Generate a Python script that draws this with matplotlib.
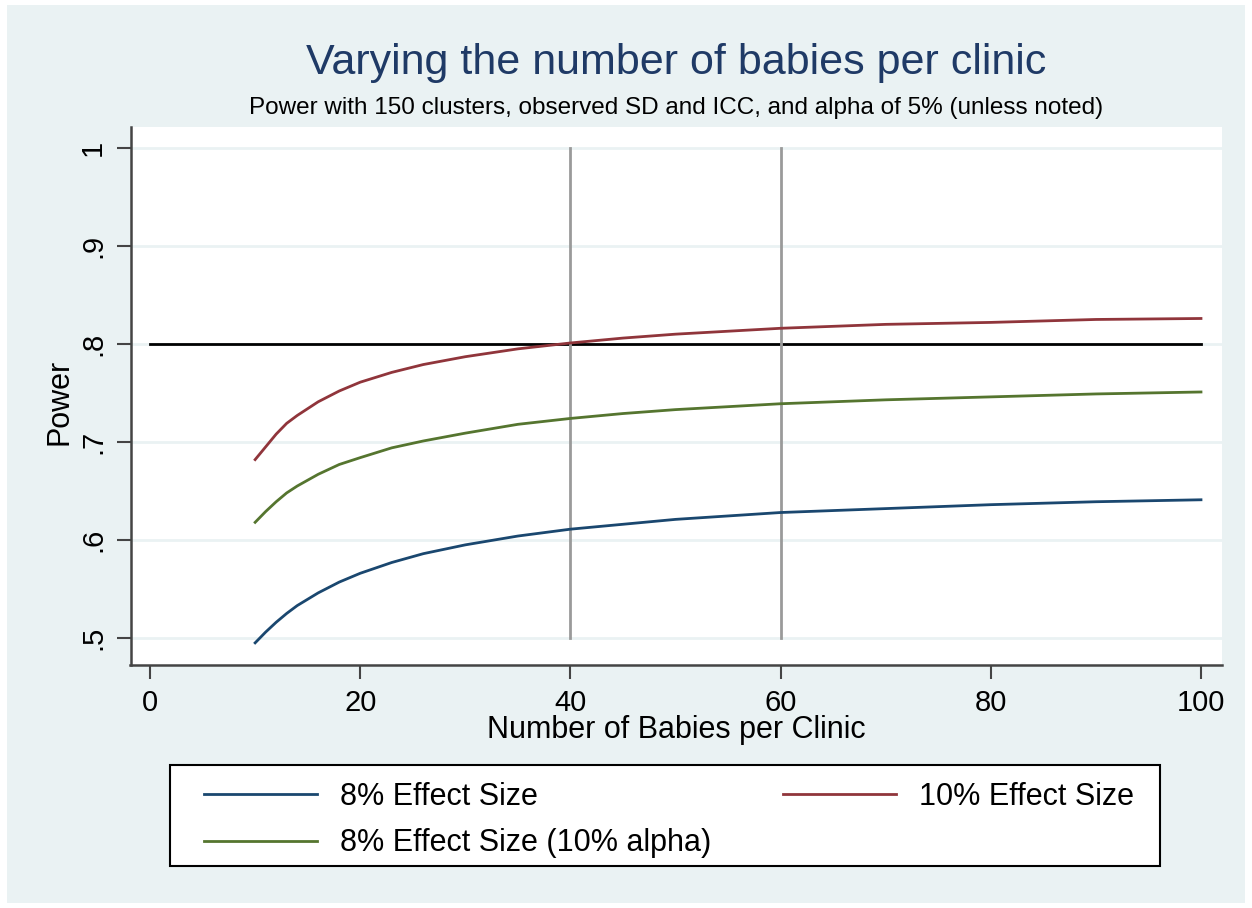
import matplotlib.pyplot as plt
from matplotlib.patches import Rectangle

plt.rcParams['font.family'] = ['Liberation Sans', 'DejaVu Sans']

# babies per clinic
babies = [10, 11, 12, 13, 14, 16, 18, 20, 23, 26, 30, 35, 40, 45, 50, 60, 70, 80, 90, 100]
# power
power_8 = [0.495, 0.506, 0.516, 0.525, 0.533, 0.546, 0.557, 0.566, 0.577, 0.586,
           0.595, 0.604, 0.611, 0.616, 0.621, 0.628, 0.632, 0.636, 0.639, 0.641]
power_10 = [0.682, 0.695, 0.708, 0.719, 0.727, 0.741, 0.752, 0.761, 0.771, 0.779,
            0.787, 0.795, 0.801, 0.806, 0.810, 0.816, 0.820, 0.822, 0.825, 0.826]
power_8_alpha10 = [0.618, 0.629, 0.639, 0.648, 0.655, 0.667, 0.677, 0.684, 0.694, 0.701,
                   0.709, 0.718, 0.724, 0.729, 0.733, 0.739, 0.743, 0.746, 0.749, 0.751]

target_power = 0.8
marked_n = [40, 60]
xticks = [0, 20, 40, 60, 80, 100]
yticks = [0.5, 0.6, 0.7, 0.8, 0.9, 1.0]
ytick_labels = ['.5', '.6', '.7', '.8', '.9', '1']

navy = '#1a476f'
maroon = '#90353b'
green = '#55752f'
bg = '#eaf2f3'

fig = plt.figure(figsize=(12.52, 9.08), dpi=100, facecolor='white')
fig.patches.append(Rectangle((7 / 1252, 5 / 908), 1238 / 1252, 898 / 908,
                             transform=fig.transFigure, facecolor=bg, edgecolor='none', zorder=-10))
# legend box
fig.patches.append(Rectangle((170 / 1252, 1 - 866 / 908), 990 / 1252, 101 / 908,
                             transform=fig.transFigure, facecolor='white', edgecolor='black',
                             lw=1.5, zorder=-5))

ax = fig.add_axes([130.5 / 1252, 1 - 665 / 908, (1222 - 130.5) / 1252, (665 - 127) / 908])
ax.set_facecolor('white')

for y in yticks:
    ax.axhline(y, color=bg, lw=2, zorder=0)

ax.plot([0, 100], [target_power, target_power], color='black', lw=2, zorder=2)
for n in marked_n:
    ax.plot([n, n], [0.5, 1.0], color='#9a9a9a', lw=2, zorder=2)

l1, = ax.plot(babies, power_8, color=navy, lw=2, zorder=3)
l2, = ax.plot(babies, power_10, color=maroon, lw=2, zorder=3)
l3, = ax.plot(babies, power_8_alpha10, color=green, lw=2, zorder=3)

ax.set_xlim(-1.86, 102)
ax.set_ylim(0.4724, 1.0214)
ax.set_xticks(xticks)
ax.set_yticks(yticks)
ax.set_yticklabels(ytick_labels, rotation=90, va='center')
ax.tick_params(axis='both', length=10, width=1.5, color='#444444', labelsize=21, pad=7)

for s in ['top', 'right']:
    ax.spines[s].set_visible(False)
for s in ['left', 'bottom']:
    ax.spines[s].set_color('#444444')
    ax.spines[s].set_linewidth(1.8)

ax.set_xlabel('Number of Babies per Clinic', fontsize=22, va='center')
ax.xaxis.set_label_coords((676 - 130.5) / 1091.5, (665 - 730) / 538)
ax.set_ylabel('Power', fontsize=22, va='center')
ax.yaxis.set_label_coords((59 - 130.5) / 1091.5, (665 - 402) / 538)

fig.text(676 / 1252, 1 - 63 / 908, 'Varying the number of babies per clinic',
         ha='center', va='center', fontsize=31, color='#1f3a66')
fig.text(676 / 1252, 1 - 108 / 908, 'Power with 150 clusters, observed SD and ICC, and alpha of 5% (unless noted)',
         ha='center', va='center', fontsize=17.5, color='black')

leg = fig.legend([l1, l3, l2], ['8% Effect Size', '8% Effect Size (10% alpha)', '10% Effect Size'],
                 ncol=2, mode='expand', loc='center', borderaxespad=0,
                 bbox_to_anchor=(195 / 1252, 1 - 870 / 908, 948 / 1252, 100 / 908),
                 fontsize=22, frameon=False,
                 handlelength=3.7, handletextpad=0.75, borderpad=0.3, labelspacing=0.55)

fig.savefig('out.png', dpi=100, facecolor='white')
